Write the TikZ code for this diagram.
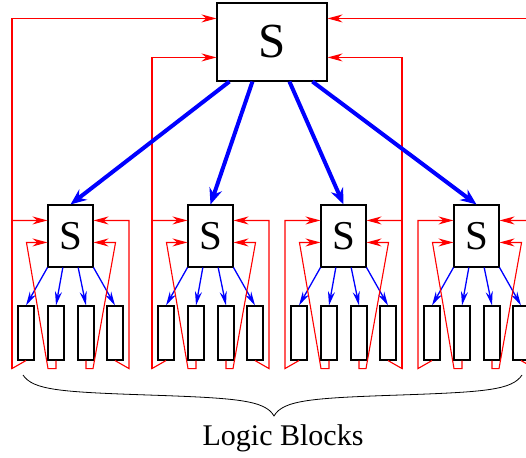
\documentclass[tikz,border=0pt]{standalone}
\usepackage{fontspec}
\setmainfont{Liberation Serif}
\usetikzlibrary{arrows.meta,calc}
\begin{document}
\begin{tikzpicture}[x=1pt,y=-1pt,
  box/.style={draw=black,line width=1.1pt,fill=white,inner sep=0pt},
  topbox/.style={box,minimum width=110pt,minimum height=78pt,font=\fontsize{49}{58}\selectfont},
  sbox/.style={box,minimum width=45pt,minimum height=62pt,font=\fontsize{41}{48}\selectfont},
  blk/.style={box,minimum width=16pt,minimum height=54pt},
  feed/.style={red,line width=1.1pt,-{Stealth[length=15pt,width=8pt]}},
  fan/.style={blue,line width=1.3pt,-{Stealth[length=14pt,width=7pt]}},
  trunk/.style={blue,line width=4pt,-{Stealth[length=16pt,width=13pt]}},
  lbl/.style={font=\fontsize{30}{34}\selectfont}]
\useasboundingbox (0,0) rectangle (526,457);

\node[topbox] (top) at (272,42) {S};

\foreach \i/\b in {1/18,2/158,3/291,4/424}{
  \node[sbox] (s\i) at (\b+52.5,236) {S};
  \foreach \k/\dx in {1/8,2/38,3/68,4/97}
    \node[blk] (b\i\k) at (\b+\dx,333) {};
  \coordinate (ol\i) at ($(b\i1.south)+(-14,8)$);
  \coordinate (or\i) at ($(b\i4.south)+(14,8)$);
  % fan-out arrows
  \draw[fan] (s\i.south west) -- (b\i1.north);
  \draw[fan] ($(s\i.south west)!1/3!(s\i.south east)$) -- (b\i2.north);
  \draw[fan] ($(s\i.south west)!2/3!(s\i.south east)$) -- (b\i3.north);
  \draw[fan] (s\i.south east) -- (b\i4.north);
  % feedback lines
  \draw[feed] (b\i1.south) -- (ol\i) |- ($(s\i.north west)+(0,16)$);
  \draw[feed] (b\i2.south) -- ++(0,8) -- ++(-8,0) -- ($(s\i.north west)+(-21,38)$) -- ($(s\i.north west)+(0,38)$);
  \draw[feed] (b\i3.south) -- ++(0,8) -- ++(7,0) -- ($(s\i.north east)+(22,38)$) -- ($(s\i.north east)+(0,38)$);
  \draw[feed] (b\i4.south) -- (or\i) |- ($(s\i.north east)+(0,16)$);
}

% feedback to top switch
\draw[feed] (ol1) |- ($(top.north west)+(0,16)$);
\draw[feed] (ol2) |- ($(top.north west)+(0,55)$);
\draw[feed] (or3) |- ($(top.north east)+(0,55)$);
\draw[feed] (or4) |- ($(top.north east)+(0,16)$);

% trunk arrows
\draw[trunk] ($(top.south west)+(13,0)$) -- (s1.north);
\draw[trunk] ($(top.south west)+(36,0)$) -- (s2.north);
\draw[trunk] ($(top.south west)+(73,0)$) -- (s3.north);
\draw[trunk] ($(top.south west)+(96,0)$) -- (s4.north);

% brace
\draw[line width=0.8pt] (23,375) .. controls (33,390) and (60,392) .. (148,395)
  .. controls (236,398) and (265,400) .. (274,416)
  .. controls (283,400) and (312,398) .. (400,395)
  .. controls (486,392) and (512,390) .. (522,375);
\node[lbl,anchor=base] (cap) at (283,445) {Logic Blocks};
\end{tikzpicture}
\end{document}
